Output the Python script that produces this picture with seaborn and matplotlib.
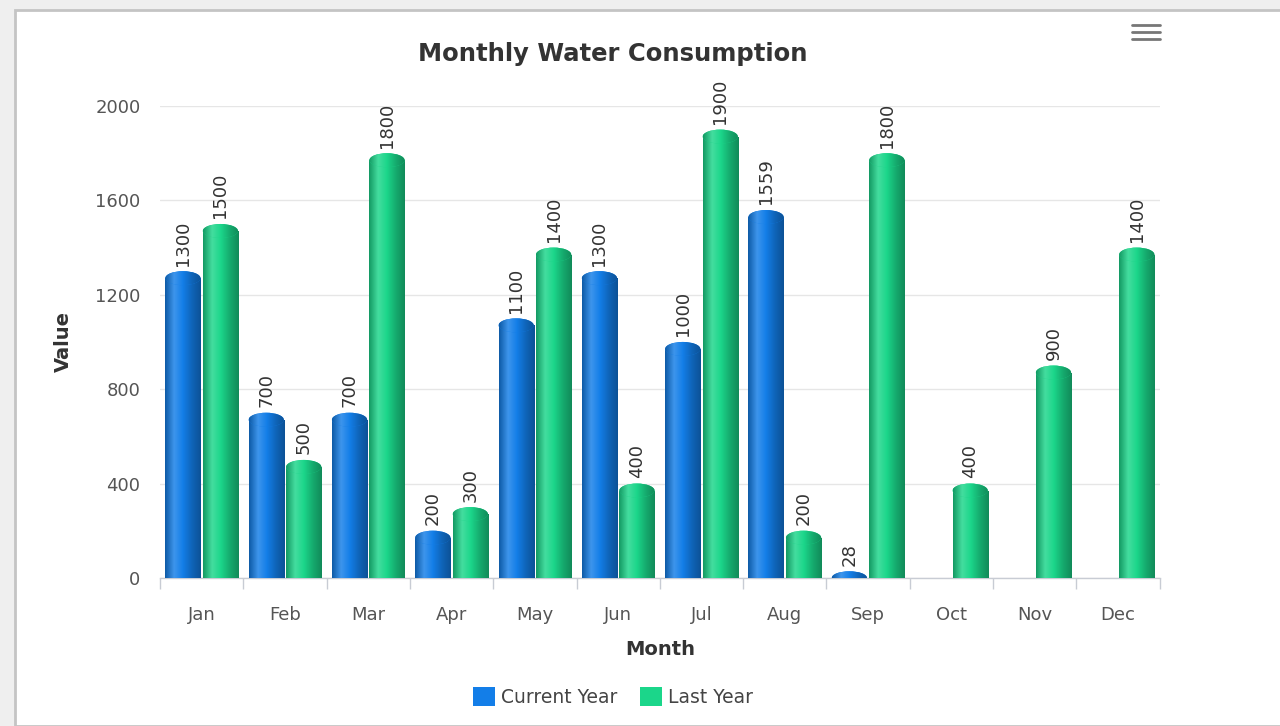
import matplotlib
matplotlib.use('Agg')
import matplotlib.pyplot as plt
import matplotlib.colors as mcolors
from matplotlib.patches import Ellipse, Rectangle, Patch
from matplotlib.lines import Line2D
import numpy as np
import pandas as pd
import seaborn as sns

months = ['Jan', 'Feb', 'Mar', 'Apr', 'May', 'Jun',
          'Jul', 'Aug', 'Sep', 'Oct', 'Nov', 'Dec']
current_year = [1300, 700, 700, 200, 1100, 1300, 1000, 1559, 28,
                np.nan, np.nan, np.nan]
last_year = [1500, 500, 1800, 300, 1400, 400, 1900, 200, 1800, 400, 900, 1400]
series_names = ['Current Year', 'Last Year']
y_ticks = [0, 400, 800, 1200, 1600, 2000]

blue = '#137ee8'
green = '#1bd68a'

df = pd.DataFrame({
    'Month': months * 2,
    'Value': current_year + last_year,
    'Series': [series_names[0]] * 12 + [series_names[1]] * 12,
})

sns.set_style('white')
plt.rcParams['font.family'] = ['DejaVu Sans']

fig = plt.figure(figsize=(12.8, 7.26), dpi=100, facecolor='#efefef')
# white chart panel with thin gray border
fig.patches.append(Rectangle((15 / 1280, 0), 1.0, 1 - 10 / 726,
                             transform=fig.transFigure, facecolor='white',
                             edgecolor='#c4c4c4', linewidth=2, zorder=-5))

ax = fig.add_axes([0.125, 0.204, 0.781, 0.65])
ax.set_facecolor('none')
sns.barplot(data=df, x='Month', y='Value', hue='Series', order=months,
            hue_order=series_names, palette=[blue, green], width=0.9,
            gap=0.06, ax=ax, legend=False, saturation=1)

# pixel -> data units for the rounded cap
px_per_unit = (0.65 * 726) / 2000
cap = 7 / px_per_unit


def shade_cmap(base):
    c = np.array(mcolors.to_rgb(base))
    dark = c * 0.72
    light = np.clip(c + (1 - c) * 0.18, 0, 1)
    return mcolors.LinearSegmentedColormap.from_list(
        'shade', [dark, light, c, c * 0.8, dark * 0.9])


grad = np.linspace(0, 1, 64).reshape(1, -1)
for container, base in zip(ax.containers, [blue, green]):
    cmap = shade_cmap(base)
    for bar, val in zip(container.patches, container.datavalues):
        if np.isnan(val):
            continue
        x0 = bar.get_x()
        w = bar.get_width()
        h = bar.get_height()
        body = max(h - cap, 0)
        bar.set_height(body)
        bar.set_edgecolor('none')
        im = ax.imshow(grad, cmap=cmap, aspect='auto',
                       extent=(x0, x0 + w, 0, h + cap), zorder=3)
        im.set_clip_path(bar)
        top = Ellipse((x0 + w / 2, body), w, 2 * min(cap, h),
                      facecolor=base, edgecolor='none', zorder=3)
        ax.add_patch(top)
        im2 = ax.imshow(grad, cmap=cmap, aspect='auto',
                        extent=(x0, x0 + w, 0, h + cap), zorder=3)
        im2.set_clip_path(top)
        ax.annotate(f'{int(val)}', (x0 + w / 2, h), xytext=(0, 4),
                    textcoords='offset points', rotation=90, ha='center',
                    va='bottom', fontsize=13, color='#333333',
                    annotation_clip=False)

ax.set_ylim(0, 2000)
ax.set_xlim(-0.5, 11.5)
ax.set_yticks(y_ticks)
ax.set_yticklabels([str(t) for t in y_ticks])
ax.yaxis.grid(True, color='#e6e6e6', linewidth=1)
ax.set_axisbelow(True)
for s in ['top', 'right', 'left']:
    ax.spines[s].set_visible(False)
ax.spines['bottom'].set_color('#c8ccd4')
ax.spines['bottom'].set_linewidth(1)

ax.set_xticks(range(12))
ax.set_xticklabels(months)
ax.set_xticks(np.arange(-0.5, 12, 1), minor=True)
ax.tick_params(axis='x', which='major', bottom=False, length=0, pad=20,
               labelsize=13, labelcolor='#555555')
ax.tick_params(axis='x', which='minor', bottom=True, length=8, width=1,
               color='#c8ccd4', direction='out')
ax.tick_params(axis='y', length=0, pad=14, labelsize=13,
               labelcolor='#555555')

ax.set_xlabel('Month', fontsize=14, fontweight='bold', color='#333333',
              labelpad=12)
ax.set_ylabel('Value', fontsize=14, fontweight='bold', color='#333333',
              labelpad=16)

fig.text(613 / 1280, 1 - 54 / 726, 'Monthly Water Consumption',
         ha='center', va='center', fontsize=17.5, fontweight='bold',
         color='#333333')

handles = [Patch(facecolor=blue, edgecolor='none'),
           Patch(facecolor=green, edgecolor='none')]
fig.legend(handles, series_names, loc='center',
           bbox_to_anchor=(613 / 1280, 1 - 697 / 726), ncol=2, frameon=False,
           fontsize=13.5, handlelength=1.2, handleheight=1.2,
           handletextpad=0.3, columnspacing=1.2, labelcolor='#444444')

# hamburger menu icon
for yy in [25, 32, 39]:
    fig.add_artist(Line2D([1132 / 1280, 1160 / 1280],
                          [1 - yy / 726] * 2, color='#777777',
                          linewidth=2))

fig.savefig('out.png', dpi=100, facecolor=fig.get_facecolor())
